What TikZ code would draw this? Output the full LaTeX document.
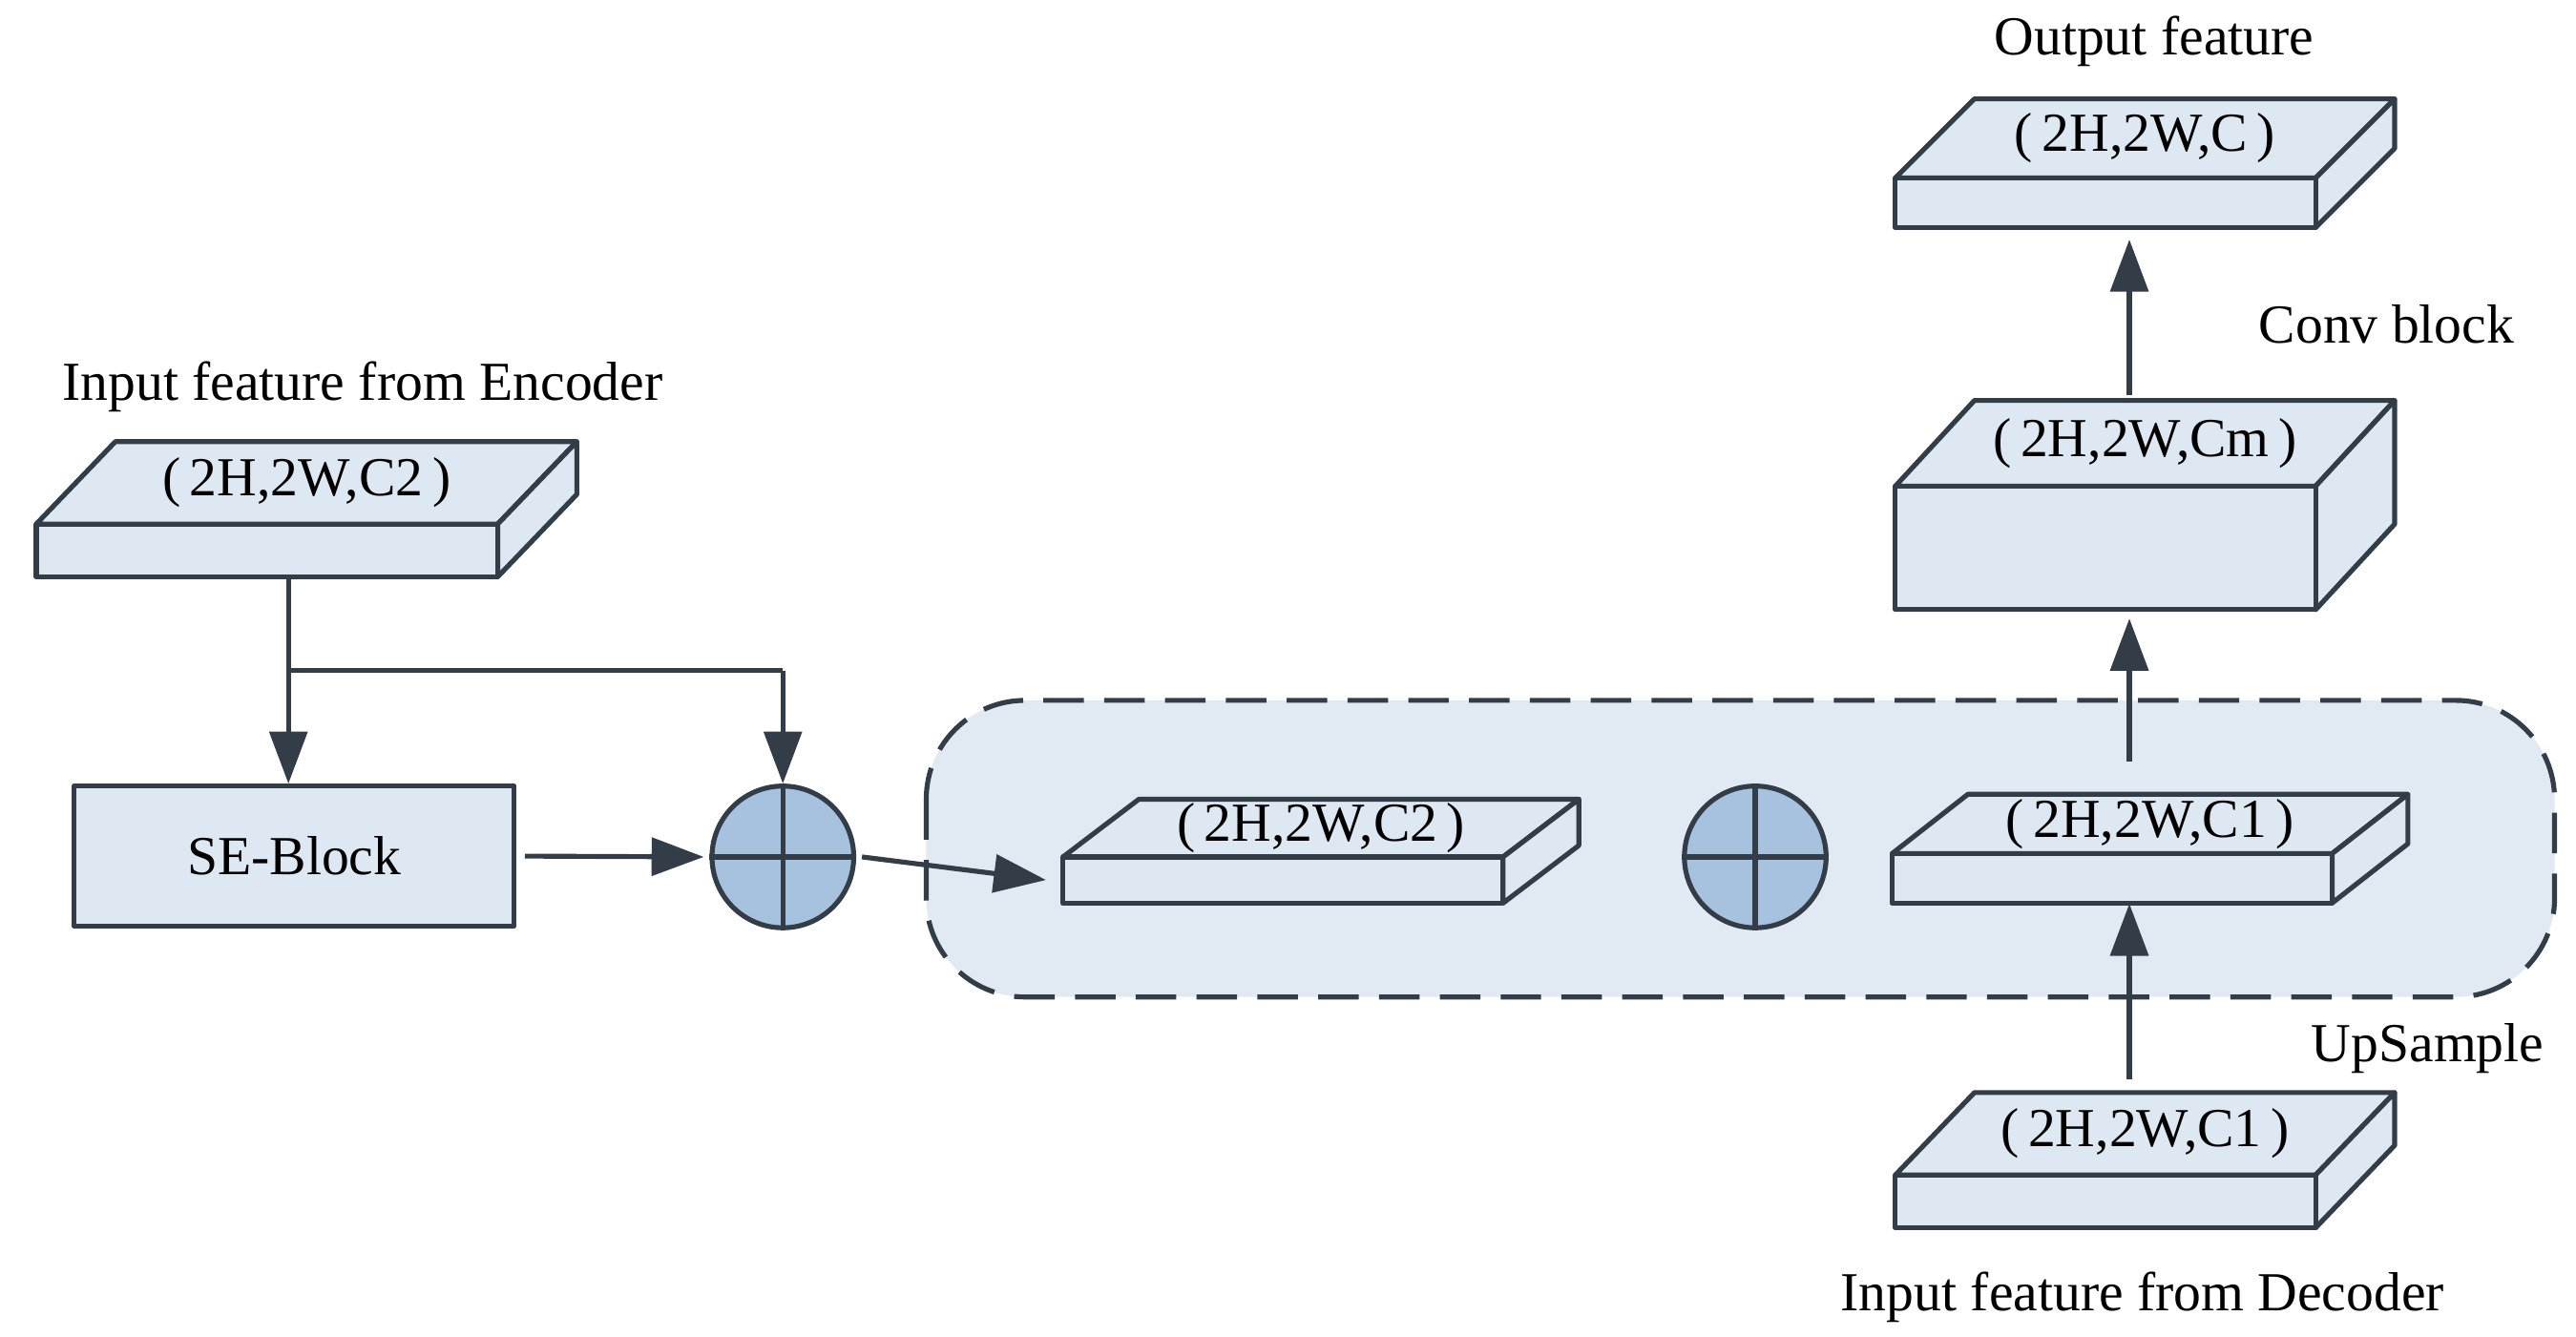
\documentclass[tikz,border=0pt]{standalone}
\usepackage{fontspec}
\setmainfont{Liberation Serif}
\usetikzlibrary{arrows.meta,fit}
\definecolor{boxc}{HTML}{DEE8F2}
\definecolor{cont}{HTML}{E1EAF3}
\definecolor{circc}{HTML}{A6C2DE}
\definecolor{edge}{HTML}{333D47}
\tikzset{
 ln/.style={draw=edge,line width=1.7pt,line join=round},
 arr/.style={ln,-{Triangle[length=18pt,width=13pt]}},
 lab/.style={font=\fontsize{19}{22}\selectfont,inner sep=0},
}
% \cub{name}{x1}{y1}{x2}{y2}{dx}{dy}{text}
\newcommand{\cub}[8]{%
 \draw[ln,fill=boxc] (#2,#3) -- ++(#6,#7) -- ++(#4-#2,0) -- (#4,#3) -- cycle;
 \draw[ln,fill=boxc] (#4,#3) -- ++(#6,#7) -- ++(0,#5-#3) -- (#4,#5) -- cycle;
 \draw[ln,fill=boxc] (#2,#3) rectangle (#4,#5);
 \node[fit={(#2,#3)(#4,#5)},inner sep=0] (#1) {};
 \node[lab] (#1-t) at ({(#2+#4+#6)/2},{#3+#7/2}) {(\,#8\,)};
}
\begin{document}
\begin{tikzpicture}[x=0.02cm,y=-0.02cm]
\useasboundingbox (0,0) rectangle (1563,811);
\draw[ln,dash pattern=on 14pt off 7pt,fill=cont,rounded corners=60*0.02cm] (562,425) rectangle (1550,605);
\cub{enc}{22}{318}{302}{350}{48}{-50}{2H,2W,C2}
\cub{out}{1150}{108}{1405}{138}{48}{-48}{2H,2W,C}
\cub{cm}{1150}{295}{1405}{370}{48}{-52}{2H,2W,Cm}
\cub{mid}{645}{520}{912}{548}{46}{-35}{2H,2W,C2}
\cub{cone}{1148}{518}{1415}{548}{46}{-36}{2H,2W,C1}
\cub{dec}{1150}{713}{1405}{745}{48}{-50}{2H,2W,C1}
\node[ln,fill=boxc,minimum width=267*0.02cm,minimum height=85*0.02cm,lab] (se) at (178.5,519.5) {SE-Block};
\foreach \n/\cx in {c1/475,c2/1065}{
 \node[ln,fill=circc,circle,minimum size=86*0.02cm,inner sep=0] (\n) at (\cx,520) {};
 \draw[ln] (\n.north)--(\n.south) (\n.west)--(\n.east);
}
\coordinate (br) at (175,407);
\coordinate (cmtop) at (1292,240);
\coordinate (conetop) at (1292,462);
\coordinate (dectop) at (1292,655);
\draw[arr] (enc.south -| br) -- (se.north -| br);
\draw[ln] (br) -- (br -| c1.north);
\draw[arr] (br -| c1.north) -- (c1.north);
\draw[arr] (se.east) ++(5,0) -- ([xshift=-2pt]c1.west);
\draw[arr] ([xshift=2pt]c1.east) -- ([xshift=-10*0.02cm]mid.west);
\draw[arr] (dectop) -- (cone.south -| dectop);
\draw[arr] (conetop) -- ([yshift=-5*0.02cm]cm.south -| conetop);
\draw[arr] (cmtop) -- ([yshift=-7*0.02cm]out.south -| cmtop);
\node[lab] (l1) at (220,235) {Input feature from Encoder};
\node[lab] (l2) at (1307,25) {Output feature};
\node[lab] (l3) at (1448,197) {Conv block};
\node[lab] (l4) at (1473,636) {UpSample};
\node[lab] (l5) at (1300,787) {Input feature from Decoder};
\end{tikzpicture}
\end{document}
